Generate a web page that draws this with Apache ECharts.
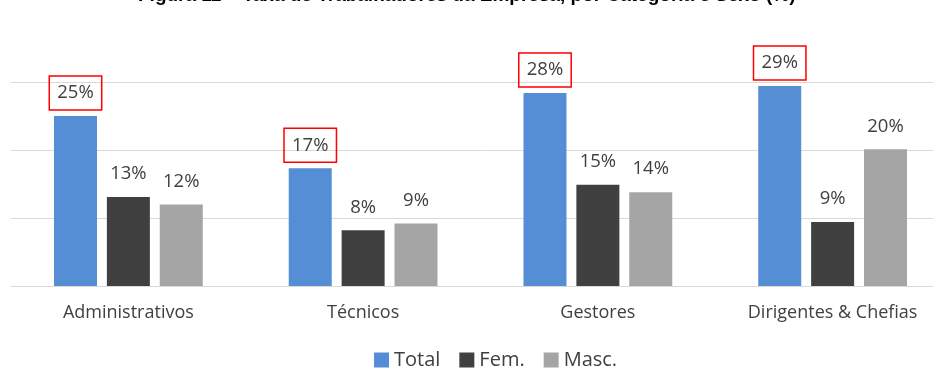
<!DOCTYPE html>
<html>
<head>
<meta charset="utf-8">
<script src="https://cdn.jsdelivr.net/npm/echarts@6/dist/echarts.min.js"></script>
<style>
html,body{margin:0;padding:0;background:#fff;overflow:hidden;width:933px;height:369px;}
#chart{width:952px;height:369px;}
</style>
</head>
<body>
<div id="chart"></div>
<script>
const titleText = 'Figura 11 – Taxa de Trabalhadores da Empresa, por Categoria e Sexo (%)';
const categories = ['Administrativos', 'Técnicos', 'Gestores', 'Dirigentes & Chefias'];
const seriesNames = ['Total', 'Fem.', 'Masc.'];
const totalValues = [25.0, 17.3, 28.4, 29.4];
const femValues = [13.1, 8.2, 14.9, 9.4];
const mascValues = [12.0, 9.2, 13.8, 20.1];
const yTicks = [0, 10, 20, 30];

const colors = ['#558ed5', '#404040', '#a5a5a5'];
const fontFam = '"Open Sans", "Liberation Sans", sans-serif';

function makeLabel(boxed) {
  return {
    show: true,
    position: 'top',
    distance: 6,
    formatter: p => Math.round(p.value) + '%',
    fontFamily: fontFam,
    fontSize: 18.5,
    color: '#404040',
    lineHeight: 20,
    padding: [7, 8, 7, 8],
    borderColor: boxed ? '#ff0000' : 'transparent',
    borderWidth: boxed ? 1.5 : 0
  };
}

const chart = echarts.init(document.getElementById('chart'), null, {renderer: 'canvas'});
chart.setOption({
  animation: false,
  backgroundColor: '#fff',
  color: colors,
  title: {
    text: titleText,
    left: 133,
    top: -19,
    textStyle: {fontFamily: '"Liberation Sans", Arial, sans-serif', fontWeight: 'bold', fontSize: 19, color: '#000'}
  },
  legend: {
    data: seriesNames,
    top: 345,
    left: 369,
    itemWidth: 15,
    itemHeight: 15,
    itemGap: 19,
    icon: 'rect',
    textStyle: {fontFamily: fontFam, fontSize: 20, color: '#404040'}
  },
  grid: {left: 11, width: 939, top: 82, height: 204, containLabel: false},
  xAxis: {
    type: 'category',
    data: categories,
    axisLine: {lineStyle: {color: '#d9d9d9', width: 1}},
    axisTick: {show: false},
    axisLabel: {fontFamily: fontFam, fontSize: 18, color: '#404040', margin: 18}
  },
  yAxis: {
    type: 'value',
    min: yTicks[0],
    max: yTicks[yTicks.length - 1],
    interval: 10,
    axisLabel: {show: false},
    axisLine: {show: false},
    axisTick: {show: false},
    splitLine: {lineStyle: {color: '#d9d9d9', width: 1}}
  },
  series: [
    {name: seriesNames[0], type: 'bar', data: totalValues, barWidth: 43, barGap: '23%', label: makeLabel(true)},
    {name: seriesNames[1], type: 'bar', data: femValues, barWidth: 43, barGap: '23%', label: makeLabel(false)},
    {name: seriesNames[2], type: 'bar', data: mascValues, barWidth: 43, barGap: '23%', label: makeLabel(false)}
  ]
});
</script>
</body>
</html>
